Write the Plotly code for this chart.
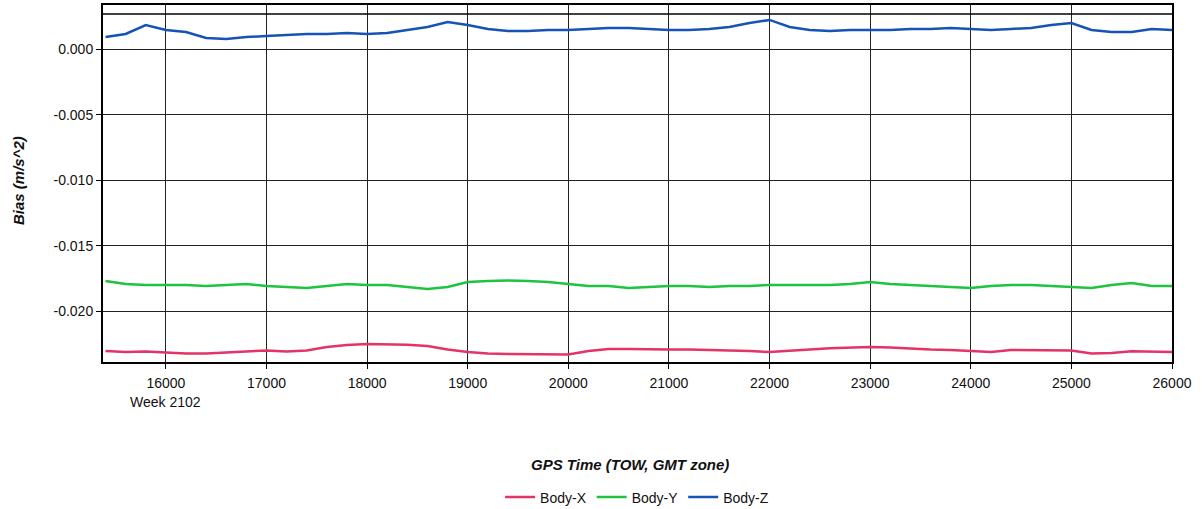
import plotly.graph_objs as go

# GPS time of week (s), one sample every 200 s
tow = list(range(15400, 26001, 200))

# accelerometer bias (m/s^2)
body_x = [-0.02302, -0.02310, -0.02306, -0.02313, -0.02321, -0.02321, -0.02313, -0.02302, -0.02298,
          -0.02306, -0.02298, -0.02271, -0.02256, -0.02249, -0.02252, -0.02254, -0.02264, -0.02291,
          -0.02310, -0.02321, -0.02325, -0.02325, -0.02325, -0.02329, -0.02302, -0.02287, -0.02287,
          -0.02291, -0.02291, -0.02291, -0.02294, -0.02298, -0.02302, -0.02310, -0.02298, -0.02291,
          -0.02282, -0.02276, -0.02272, -0.02276, -0.02285, -0.02291, -0.02294, -0.02302, -0.02310,
          -0.02294, -0.02294, -0.02294, -0.02298, -0.02321, -0.02317, -0.02304, -0.02306, -0.02310]
body_y = [-0.01768, -0.01791, -0.01798, -0.01798, -0.01798, -0.01806, -0.01798, -0.01791, -0.01806,
          -0.01814, -0.01821, -0.01806, -0.01791, -0.01798, -0.01798, -0.01814, -0.01829, -0.01814,
          -0.01776, -0.01768, -0.01764, -0.01768, -0.01776, -0.01791, -0.01806, -0.01806, -0.01821,
          -0.01814, -0.01806, -0.01806, -0.01814, -0.01806, -0.01806, -0.01798, -0.01798, -0.01798,
          -0.01798, -0.01791, -0.01776, -0.01791, -0.01798, -0.01806, -0.01814, -0.01821, -0.01806,
          -0.01798, -0.01798, -0.01806, -0.01814, -0.01821, -0.01798, -0.01783, -0.01806, -0.01806]
body_z = [0.00094, 0.00117, 0.00185, 0.00147, 0.00132, 0.00086, 0.00079, 0.00094, 0.00101,
          0.00109, 0.00117, 0.00117, 0.00124, 0.00117, 0.00124, 0.00147, 0.00170, 0.00208,
          0.00185, 0.00155, 0.00140, 0.00140, 0.00147, 0.00147, 0.00155, 0.00163, 0.00163,
          0.00155, 0.00147, 0.00147, 0.00155, 0.00170, 0.00200, 0.00224, 0.00170, 0.00147,
          0.00140, 0.00147, 0.00147, 0.00147, 0.00155, 0.00155, 0.00163, 0.00155, 0.00147,
          0.00155, 0.00163, 0.00185, 0.00200, 0.00147, 0.00132, 0.00132, 0.00155, 0.00147]

x_ticks = list(range(16000, 26001, 1000))
x_ticktext = [str(t) for t in x_ticks]
y_ticks = [0.0, -0.005, -0.010, -0.015, -0.020]
y_ticktext = ["0.000", "-0.005", "-0.010", "-0.015", "-0.020"]
week_label = "Week 2102"

font = "Liberation Sans, Arial, sans-serif"

def trace(name, y, color):
    return go.Scatter(name=name, x=tow, y=y, mode='lines',
                      line=dict(color=color, width=2.5))

data = [trace('Body-X', body_x, '#E33367'),
        trace('Body-Y', body_y, '#1DC43F'),
        trace('Body-Z', body_z, '#1553B6')]

layout = go.Layout(
    width=1202, height=509,
    margin=dict(l=103, r=30, t=5, b=147),
    paper_bgcolor='white', plot_bgcolor='white',
    font=dict(family=font, size=14, color='#111'),
    xaxis=dict(range=[15375, 26000], tickvals=x_ticks, ticktext=x_ticktext,
               showgrid=True, gridcolor='#222', gridwidth=1, automargin=False,
               showline=True, linecolor='black', linewidth=2, mirror=True,
               ticks='outside', ticklen=5, tickcolor='black', zeroline=False,
               ticklabelstandoff=2, tickfont=dict(size=14)),
    yaxis=dict(range=[-0.02386, 0.00338], tickvals=y_ticks, ticktext=y_ticktext,
               showgrid=True, gridcolor='#222', gridwidth=1, automargin=False,
               showline=True, linecolor='black', linewidth=2, mirror=True,
               ticks='outside', ticklen=5, tickcolor='black', zeroline=False,
               tickfont=dict(size=14)),
    showlegend=True,
    # container refs so the legend does not push the bottom margin
    legend=dict(orientation='h', xref='container', x=0.53, xanchor='center',
                yref='container', y=0.054, yanchor='top',
                font=dict(size=14), itemwidth=30),
    annotations=[
        dict(text=week_label, xref='x', yref='paper', x=x_ticks[0], y=-0.112,
             xanchor='center', yanchor='middle', showarrow=False, font=dict(size=14)),
        dict(text="<b><i>GPS Time (TOW, GMT zone)</i></b>", xref='paper', yref='paper',
             x=0.493, y=-0.2885, xanchor='center', yanchor='middle', showarrow=False,
             font=dict(size=15)),
        dict(text="<b><i>Bias (m/s^2)</i></b>", xref='paper', yref='paper',
             x=-0.0795, y=0.507, xanchor='center', yanchor='middle', showarrow=False,
             textangle=-90, font=dict(size=15)),
    ],
    shapes=[dict(type='line', xref='paper', x0=0, x1=1, yref='y', y0=0.00269, y1=0.00269,
                 line=dict(color='black', width=1.5))],
)

fig = go.Figure(data=data, layout=layout)
# page body has an 8px default margin, drop it so the figure sits at the corner
fig.write_html("out.html", config={'displayModeBar': False},
               post_script="document.body.style.margin='0';")
